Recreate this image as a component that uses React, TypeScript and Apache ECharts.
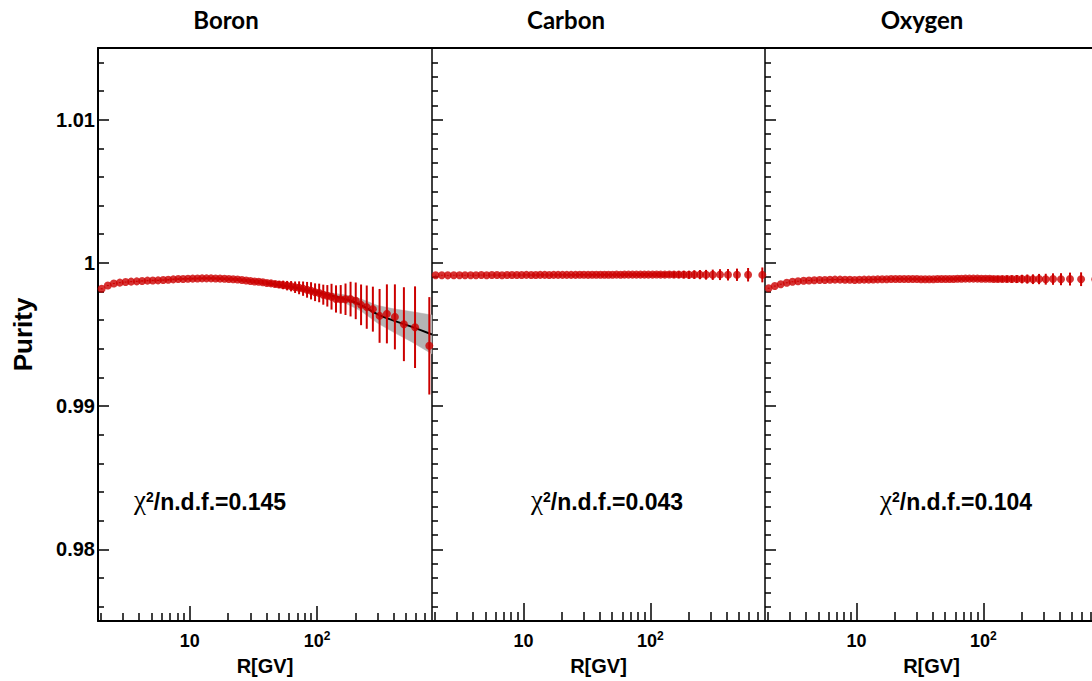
import { useEffect, useRef } from 'react';
import * as echarts from 'echarts';

// ---- data -------------------------------------------------------------
// rigidity bin centres (GV)
const RIGIDITY = [
  2.03, 2.27, 2.53, 2.82, 3.13, 3.46, 3.83, 4.22, 4.65, 5.12,
  5.63, 6.18, 6.77, 7.42, 8.11, 8.86, 9.67, 10.54, 11.49, 12.49,
  13.54, 14.69, 15.94, 17.29, 18.73, 20.28, 21.93, 23.73, 25.68, 27.73,
  29.93, 32.28, 34.78, 37.47, 40.37, 43.47, 46.77, 50.32, 54.12, 58.16,
  62.51, 67.21, 72.25, 77.65, 83.45, 89.69, 96.44, 103.9, 111.9, 120.4,
  129.9, 140.9, 153.4, 167.3, 183.3, 201.3, 221.7, 245.7, 274.5, 309.9,
  353.7, 408.8, 481.2, 588.6, 762.1,
];

const BORON = [
  0.99819, 0.99842, 0.99856, 0.99862, 0.99866, 0.99869, 0.99871, 0.99874, 0.99876, 0.99877,
  0.99878, 0.9988, 0.99882, 0.99885, 0.99887, 0.99888, 0.99889, 0.9989, 0.99891, 0.99892,
  0.99892, 0.99892, 0.99891, 0.9989, 0.99889, 0.99887, 0.99886, 0.99884, 0.9988, 0.99877,
  0.99874, 0.9987, 0.99868, 0.99865, 0.9986, 0.99857, 0.99853, 0.99849, 0.99846, 0.99841,
  0.99837, 0.9983, 0.99826, 0.9982, 0.99812, 0.99805, 0.99795, 0.9979, 0.99778, 0.9977,
  0.99764, 0.99748, 0.99745, 0.99746, 0.99747, 0.99735, 0.99707, 0.99691, 0.99677, 0.9963,
  0.99644, 0.99623, 0.99572, 0.99551, 0.99421,
];
const BORON_ERR = [
  0.00004, 0.00004, 0.00004, 0.00004, 0.00004, 0.00004, 0.00005, 0.00005, 0.00005, 0.00005,
  0.00005, 0.00005, 0.00006, 0.00006, 0.00006, 0.00006, 0.00006, 0.00007, 0.00007, 0.00007,
  0.00008, 0.00008, 0.00008, 0.00009, 0.00009, 0.0001, 0.0001, 0.00011, 0.00011, 0.00012,
  0.00013, 0.00014, 0.00015, 0.00017, 0.00018, 0.0002, 0.00022, 0.00025, 0.0003, 0.00033,
  0.00036, 0.0004, 0.00045, 0.0005, 0.00055, 0.0006, 0.00062, 0.00065, 0.0007, 0.00075,
  0.0009, 0.00095, 0.001, 0.0011, 0.00121, 0.00128, 0.00142, 0.00151, 0.00157, 0.00188,
  0.00206, 0.00227, 0.00258, 0.00285, 0.0034,
];

const CARBON = [
  0.99914, 0.99914, 0.99913, 0.99914, 0.99914, 0.99914, 0.99914, 0.99914, 0.99915, 0.99914,
  0.99915, 0.99915, 0.99914, 0.99915, 0.99915, 0.99915, 0.99915, 0.99916, 0.99915, 0.99915,
  0.99916, 0.99916, 0.99915, 0.99916, 0.99916, 0.99916, 0.99916, 0.99916, 0.99916, 0.99917,
  0.99917, 0.99916, 0.99917, 0.99917, 0.99917, 0.99917, 0.99917, 0.99917, 0.99918, 0.99917,
  0.99918, 0.99918, 0.99918, 0.99918, 0.99918, 0.99918, 0.99918, 0.99918, 0.99919, 0.99918,
  0.99918, 0.99919, 0.99918, 0.99918, 0.99918, 0.99917, 0.99918, 0.99918, 0.99917, 0.99917,
  0.99918, 0.99917, 0.99917, 0.99917, 0.99916,
];
const CARBON_ERR = [
  0.00003, 0.00003, 0.00003, 0.00003, 0.00003, 0.00003, 0.00003, 0.00003, 0.00003, 0.00003,
  0.00003, 0.00003, 0.00003, 0.00003, 0.00003, 0.00003, 0.00003, 0.00004, 0.00004, 0.00004,
  0.00004, 0.00004, 0.00004, 0.00004, 0.00004, 0.00004, 0.00005, 0.00005, 0.00005, 0.00005,
  0.00005, 0.00005, 0.00006, 0.00006, 0.00006, 0.00007, 0.00007, 0.00007, 0.00008, 0.00008,
  0.00009, 0.00009, 0.0001, 0.0001, 0.00011, 0.00011, 0.00012, 0.00013, 0.00014, 0.00016,
  0.00018, 0.0002, 0.00022, 0.00024, 0.00026, 0.00028, 0.0003, 0.00032, 0.00034, 0.00036,
  0.00038, 0.0004, 0.00043, 0.00047, 0.00052,
];

const OXYGEN = [
  0.99823, 0.99838, 0.99851, 0.99861, 0.99868, 0.99872, 0.99875, 0.99877, 0.99879, 0.9988,
  0.99881, 0.99882, 0.99883, 0.99883, 0.99882, 0.99882, 0.99881, 0.99882, 0.99883, 0.99883,
  0.99884, 0.99885, 0.99886, 0.99886, 0.99887, 0.99887, 0.99888, 0.99888, 0.99888, 0.99887,
  0.99887, 0.99886, 0.99886, 0.99886, 0.99886, 0.99887, 0.99887, 0.99888, 0.99888, 0.99888,
  0.99889, 0.99889, 0.9989, 0.9989, 0.9989, 0.9989, 0.99889, 0.99889, 0.99889, 0.99888,
  0.99888, 0.99888, 0.99888, 0.99887, 0.99887, 0.99887, 0.99887, 0.99886, 0.99887, 0.99886,
  0.99887, 0.99886, 0.99887, 0.99886, 0.99886,
];
const OXYGEN_ERR = [
  0.00004, 0.00004, 0.00004, 0.00004, 0.00004, 0.00004, 0.00004, 0.00004, 0.00004, 0.00004,
  0.00004, 0.00004, 0.00004, 0.00004, 0.00004, 0.00004, 0.00004, 0.00005, 0.00005, 0.00005,
  0.00005, 0.00005, 0.00005, 0.00005, 0.00005, 0.00005, 0.00006, 0.00006, 0.00006, 0.00006,
  0.00006, 0.00006, 0.00007, 0.00007, 0.00007, 0.00008, 0.00008, 0.00008, 0.00009, 0.00009,
  0.0001, 0.0001, 0.00011, 0.00011, 0.00012, 0.00013, 0.00014, 0.00015, 0.00016, 0.00018,
  0.0002, 0.00022, 0.00024, 0.00026, 0.00028, 0.0003, 0.00032, 0.00034, 0.00036, 0.00038,
  0.0004, 0.00042, 0.00045, 0.00048, 0.00054,
];

// fitted purity curve for boron with its uncertainty band
const FIT_R = [40, 60, 80, 100, 130, 170, 220, 300, 400, 550, 800];
const FIT_V = [0.9986, 0.99835, 0.99815, 0.99795, 0.9977, 0.99745, 0.99707, 0.9964, 0.99597, 0.99555, 0.995];
const FIT_ERR = [0.00006, 0.00008, 0.0001, 0.00014, 0.0002, 0.0003, 0.00042, 0.00062, 0.00082, 0.00105, 0.00136];

const TITLES = ['Boron', 'Carbon', 'Oxygen'];
const CHI2 = ['0.145', '0.043', '0.104'];

// axis ranges and tick positions
const X_MIN = 1.9;
const X_MAX = 800;
const Y_MIN = 0.975;
const Y_MAX = 1.015;
const X_MAJOR = [10, 100];
const X_MINOR = [2, 3, 4, 5, 6, 7, 8, 9, 20, 30, 40, 50, 60, 70, 80, 90, 200, 300, 400, 500, 600, 700];
const Y_MAJOR = [0.98, 0.99, 1.0, 1.01];
const Y_MINOR_COARSE = [
  0.976, 0.978, 0.982, 0.984, 0.986, 0.988, 0.992, 0.994, 0.996, 0.998,
  1.002, 1.004, 1.006, 1.008, 1.012, 1.014,
];
const Y_MINOR_FINE = [
  0.976, 0.977, 0.978, 0.979, 0.981, 0.982, 0.983, 0.984, 0.985, 0.986, 0.987, 0.988, 0.989,
  0.991, 0.992, 0.993, 0.994, 0.995, 0.996, 0.997, 0.998, 0.999,
  1.001, 1.002, 1.003, 1.004, 1.005, 1.006, 1.007, 1.008, 1.009,
  1.011, 1.012, 1.013, 1.014,
];

// ---- layout / style ----------------------------------------------------
const FONT = '"Liberation Sans", Arial, Helvetica, sans-serif';
const RED = '#cc0000';
const BAND = '#b4b4b4';
const PANEL_LEFT = [98, 432, 765];
const PANEL_WIDTH = [334, 333, 333];
const PANEL_TOP = 48;
const PANEL_HEIGHT = 573;
const TITLE_X = [226, 566, 922];
const TITLE_Y = 19;
const CHI_X = [134, 531, 880];
const CHI_Y = 499;

const lg = (v: number) => Math.log10(v);

function buildOption() {
  const panels = [
    { values: BORON, errors: BORON_ERR },
    { values: CARBON, errors: CARBON_ERR },
    { values: OXYGEN, errors: OXYGEN_ERR },
  ];

  const grid: any[] = [];
  const xAxis: any[] = [];
  const yAxis: any[] = [];
  const series: any[] = [];

  panels.forEach((p, i) => {
    grid.push({
      left: PANEL_LEFT[i],
      top: PANEL_TOP,
      width: PANEL_WIDTH[i],
      height: PANEL_HEIGHT,
      show: false,
      containLabel: false,
      outerBoundsMode: 'none',
    });

    const xBase = {
      type: 'value',
      gridIndex: i,
      min: lg(X_MIN),
      max: lg(X_MAX),
      splitLine: { show: false },
    };
    // main bottom axis: line, decade ticks and labels
    xAxis.push({
      ...xBase,
      position: 'bottom',
      axisLine: { show: true, onZero: false, lineStyle: { color: '#000', width: 2 } },
      axisTick: {
        show: true,
        inside: true,
        length: i === 0 ? 15 : 18,
        customValues: X_MAJOR.map(lg),
        lineStyle: { color: '#000', width: 1.5 },
      },
      axisLabel: {
        show: true,
        customValues: X_MAJOR.map(lg),
        margin: 9,
        formatter: (v: number) => {
          const n = Math.round(v);
          return n === 1 ? '{b|10}' : '{b|10}{s|' + n + '}';
        },
        rich: {
          b: { fontSize: 18, fontWeight: 'bold', fontFamily: FONT, color: '#000', lineHeight: 20, verticalAlign: 'bottom' },
          s: { fontSize: 12, fontWeight: 'bold', fontFamily: FONT, color: '#000', lineHeight: 12, verticalAlign: 'top' },
        },
      },
      name: 'R[GV]',
      nameLocation: 'middle',
      nameGap: 35,
      nameTextStyle: { fontSize: 20, fontWeight: 'bold', fontFamily: FONT, color: '#000' },
    });
    // minor ticks 2..9 within each decade
    xAxis.push({
      ...xBase,
      position: 'bottom',
      axisLine: { show: false, onZero: false },
      axisTick: {
        show: true,
        inside: true,
        length: i === 0 ? 8 : 9,
        customValues: X_MINOR.map(lg),
        lineStyle: { color: '#000', width: 1.5 },
      },
      axisLabel: { show: false },
    });
    // top frame edge
    xAxis.push({
      ...xBase,
      position: 'top',
      axisLine: { show: true, onZero: false, lineStyle: { color: '#000', width: 2 } },
      axisTick: { show: false },
      axisLabel: { show: false },
    });

    const yBase = {
      type: 'value',
      gridIndex: i,
      position: 'left',
      min: Y_MIN,
      max: Y_MAX,
      splitLine: { show: false },
    };
    yAxis.push({
      ...yBase,
      axisLine: { show: true, onZero: false, lineStyle: { color: '#000', width: i === 0 ? 2 : 1.5 } },
      axisTick: {
        show: true,
        inside: true,
        length: 11,
        customValues: Y_MAJOR,
        lineStyle: { color: '#000', width: 1.5 },
      },
      axisLabel: {
        show: i === 0,
        customValues: Y_MAJOR,
        margin: 3,
        formatter: (v: number) => String(Math.round(v * 100) / 100),
        fontSize: 20,
        fontWeight: 'bold',
        fontFamily: FONT,
        color: '#000',
      },
      name: i === 0 ? 'Purity' : '',
      nameLocation: 'middle',
      nameGap: 62,
      nameTextStyle: { fontSize: 26, fontWeight: 'bold', fontFamily: FONT, color: '#000' },
    });
    yAxis.push({
      ...yBase,
      axisLine: { show: false, onZero: false },
      axisTick: {
        show: true,
        inside: true,
        length: 6,
        customValues: i === 0 ? Y_MINOR_COARSE : Y_MINOR_FINE,
        lineStyle: { color: '#000', width: 1.5 },
      },
      axisLabel: { show: false },
    });

    const xi = 3 * i;
    const yi = 2 * i;

    if (i === 0) {
      // uncertainty band of the fit, drawn as one polygon through the axis scales
      series.push({
        type: 'custom',
        xAxisIndex: xi,
        yAxisIndex: yi,
        z: 1,
        silent: true,
        encode: { x: 0, y: 1 },
        data: [[lg(FIT_R[0]), FIT_V[0]]],
        renderItem: (_params: any, api: any) => {
          const upper = FIT_R.map((r, k) => api.coord([lg(r), FIT_V[k] + FIT_ERR[k]]));
          const lower = FIT_R.map((r, k) => api.coord([lg(r), FIT_V[k] - FIT_ERR[k]])).reverse();
          return {
            type: 'polygon',
            shape: { points: upper.concat(lower) },
            style: { fill: BAND, stroke: BAND, lineWidth: 0.5 },
          };
        },
      });
      series.push({
        type: 'line',
        xAxisIndex: xi,
        yAxisIndex: yi,
        smooth: true,
        symbol: 'none',
        silent: true,
        z: 2,
        lineStyle: { color: '#000', width: 2 },
        data: FIT_R.map((r, k) => [lg(r), FIT_V[k]]),
      });
    }

    const pts = RIGIDITY.map((r, k) => [lg(r), p.values[k], p.errors[k]]);
    series.push({
      type: 'custom',
      xAxisIndex: xi,
      yAxisIndex: yi,
      z: 3,
      silent: true,
      encode: { x: 0, y: 1 },
      data: pts,
      renderItem: (_params: any, api: any) => {
        const x = api.value(0);
        const y = api.value(1);
        const e = api.value(2);
        const a = api.coord([x, y - e]);
        const b = api.coord([x, y + e]);
        return {
          type: 'line',
          shape: { x1: a[0], y1: a[1], x2: b[0], y2: b[1] },
          style: { stroke: RED, lineWidth: 2 },
        };
      },
    });
    series.push({
      type: 'scatter',
      xAxisIndex: xi,
      yAxisIndex: yi,
      z: 4,
      symbol: 'circle',
      symbolSize: 8,
      silent: true,
      itemStyle: { color: RED },
      data: pts.map((d) => [d[0], d[1]]),
    });
  });

  const graphic: any[] = [];
  TITLES.forEach((t, i) => {
    graphic.push({
      type: 'text',
      x: TITLE_X[i],
      y: TITLE_Y,
      style: {
        text: t,
        fill: '#000',
        fontSize: 24,
        fontWeight: 'bold',
        fontFamily: 'Lato, "Open Sans", sans-serif',
        align: 'center',
        verticalAlign: 'middle',
      },
    });
  });
  CHI2.forEach((c, i) => {
    graphic.push({
      type: 'text',
      x: CHI_X[i],
      y: CHI_Y,
      style: {
        text: '{c|χ}{s|2}{t|/n.d.f.=' + c + '}',
        align: 'left',
        verticalAlign: 'middle',
        rich: {
          c: { fontSize: 27, fontFamily: '"Liberation Serif", "DejaVu Serif", serif', fill: '#000', lineHeight: 28, verticalAlign: 'bottom' },
          s: { fontSize: 14, fontWeight: 'bold', fontFamily: FONT, fill: '#000', lineHeight: 15, verticalAlign: 'bottom', padding: [0, 0, 9, 0] },
          t: { fontSize: 23, fontWeight: 'bold', fontFamily: FONT, fill: '#000', lineHeight: 28, verticalAlign: 'bottom' },
        },
      },
    });
  });

  return {
    animation: false,
    backgroundColor: '#ffffff',
    grid,
    xAxis,
    yAxis,
    series,
    graphic,
  };
}

export default function App() {
  const ref = useRef<HTMLDivElement>(null);
  useEffect(() => {
    if (!ref.current) return;
    const chart = echarts.init(ref.current, null, { renderer: 'svg' });
    chart.setOption(buildOption() as any);
    return () => chart.dispose();
  }, []);
  return (
    <div
      style={{
        position: 'fixed',
        left: 0,
        top: 0,
        width: 1092,
        height: 681,
        overflow: 'hidden',
        background: '#fff',
      }}
    >
      <div ref={ref} style={{ width: 1110, height: 681 }} />
    </div>
  );
}
